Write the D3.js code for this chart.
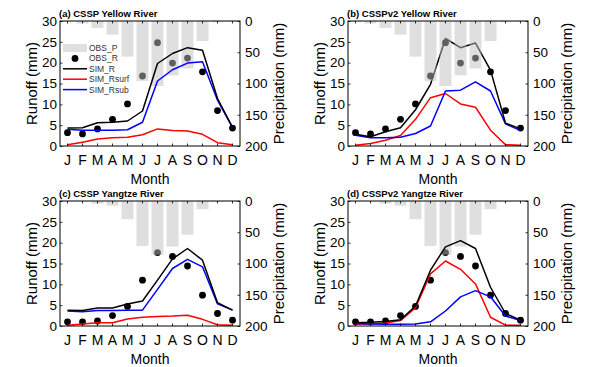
<!DOCTYPE html>
<html>
<head>
<meta charset="utf-8">
<script src="https://cdn.jsdelivr.net/npm/d3@7"></script>
<style>
  html, body { margin: 0; padding: 0; background: #fff; }
  svg { display: block; font-family: "Liberation Sans", Arial, sans-serif; }
</style>
</head>
<body>
<svg id="chart" width="600" height="367"></svg>
<script>
// ---- data ----
const months = ["J","F","M","A","M","J","J","A","S","O","N","D"];
const runoffTicks = [0,5,10,15,20,25,30];
const precipTicks = [0,50,100,150,200];

const yellowObsP = [1,4,11,22,57,96,104,87,76,32,2,1];
const yellowObsR = [3.2,2.9,4.1,6.4,10.1,16.8,24.8,19.9,21.1,17.8,8.5,4.3];
const yangtzeObsP = [0.5,0.5,4.5,7.5,29,72,86,73,54,13,1,0.3];
const yangtzeObsR = [1.0,1.0,1.2,2.5,4.7,11.0,17.6,16.7,14.4,7.4,3.0,1.4];

const csspYellowR     = [4.3,4.4,5.6,5.7,6.0,8.4,19.8,22.2,23.6,23.0,11.4,4.5];
const csspYellowRsurf = [0.3,0.9,1.7,2.0,2.1,2.7,4.1,3.7,3.6,2.8,0.8,0.3];
const csspYellowRsub  = [4.0,3.8,3.8,3.8,3.9,5.7,15.6,18.3,19.9,20.2,11.0,4.4];

const v2YellowR     = [2.8,2.2,3.4,4.4,8.7,14.8,25.8,23.6,24.7,18.2,5.5,4.1];
const v2YellowRsurf = [0.2,0.6,1.4,2.5,6.4,11.6,12.6,10.1,9.3,3.8,0.3,0.2];
const v2YellowRsub  = [2.6,2.0,2.0,2.1,3.0,4.8,13.2,13.4,15.4,13.2,5.3,3.7];

const csspYangtzeR     = [3.8,3.7,4.3,4.3,5.3,6.0,11.0,16.1,18.6,15.8,5.6,3.8];
const csspYangtzeRsurf = [0.2,0.5,0.8,0.8,1.7,2.1,2.3,2.4,2.6,1.6,0.3,0.2];
const csspYangtzeRsub  = [3.6,3.4,3.7,3.7,3.8,3.8,8.8,13.8,16.0,14.2,5.3,3.8];

const v2YangtzeR     = [0.8,0.9,1.1,1.5,4.8,13.4,19.0,20.5,18.6,9.3,3.0,1.4];
const v2YangtzeRsurf = [0.5,0.5,0.7,1.3,4.4,12.5,15.6,13.6,10.1,2.1,0.2,0.2];
const v2YangtzeRsub  = [0.6,0.5,0.4,0.4,0.5,1.0,3.6,7.0,8.5,7.0,2.4,1.3];

const panels = [
  {title:"(a) CSSP Yellow River",   x:60,  y:21,  P:yellowObsP,  O:yellowObsR,  R:csspYellowR,  Rs:csspYellowRsurf,  Rb:csspYellowRsub,  legend:true,  barsOnTop:false},
  {title:"(b) CSSPv2 Yellow River", x:348, y:21,  P:yellowObsP,  O:yellowObsR,  R:v2YellowR,    Rs:v2YellowRsurf,    Rb:v2YellowRsub,    legend:false, barsOnTop:true},
  {title:"(c) CSSP Yangtze River",  x:60,  y:201, P:yangtzeObsP, O:yangtzeObsR, R:csspYangtzeR, Rs:csspYangtzeRsurf, Rb:csspYangtzeRsub, legend:false, barsOnTop:false},
  {title:"(d) CSSPv2 Yangtze River",x:348, y:201, P:yangtzeObsP, O:yangtzeObsR, R:v2YangtzeR,   Rs:v2YangtzeRsurf,   Rb:v2YangtzeRsub,   legend:false, barsOnTop:false}
];

const W = 180, H = 125;
const svg = d3.select("#chart");
const idx = d3.range(12);
const tickFont = "13.5px";

panels.forEach(p => {
  const g = svg.append("g").attr("transform", `translate(${p.x},${p.y})`);
  const xb = d3.scaleBand().domain(idx).range([0, W]).paddingInner(0.2).paddingOuter(0.1);
  const xc = i => xb(i) + xb.bandwidth() / 2;
  const yL = d3.scaleLinear().domain([0, 30]).range([H, 0]);
  const yR = d3.scaleLinear().domain([0, 200]).range([0, H]);

  const barsG = () => {
    g.append("g").selectAll("rect").data(p.P).join("rect")
      .attr("x", (d, i) => xb(i)).attr("y", yR(0))
      .attr("width", xb.bandwidth()).attr("height", d => yR(d) - yR(0))
      .attr("fill", "rgb(192,192,192)").attr("fill-opacity", 0.5);
  };
  const dotsG = () => {
    g.append("g").selectAll("circle").data(p.O).join("circle")
      .attr("cx", (d, i) => xc(i)).attr("cy", d => yL(d)).attr("r", 3.4)
      .attr("fill", "#000");
  };
  const line = d3.line().x((d, i) => xc(i)).y(d => yL(d));
  const linesG = () => {
    [[p.Rs, "#ff0000"], [p.Rb, "#0000ff"], [p.R, "#000000"]].forEach(([data, c]) => {
      g.append("path").datum(data).attr("d", line)
        .attr("fill", "none").attr("stroke", c).attr("stroke-width", 1.5)
        .attr("stroke-linejoin", "round");
    });
  };

  dotsG();
  if (p.barsOnTop) { linesG(); barsG(); } else { barsG(); linesG(); }

  // axes (ticks inward)
  const styleAxis = sel => {
    sel.select(".domain").remove();
    sel.selectAll(".tick line").attr("stroke", "#000").attr("stroke-width", 0.8);
    sel.selectAll("text").attr("fill", "#000").style("font-family", "'Liberation Sans', Arial, sans-serif");
  };
  g.append("g").attr("transform", `translate(0,${H})`)
    .call(d3.axisBottom(xb).tickFormat(i => months[i]).tickSizeInner(-2.5).tickSizeOuter(0).tickPadding(9))
    .call(styleAxis).selectAll("text").style("font-size", "14px");
  g.append("g")
    .call(d3.axisTop(xb).tickFormat("").tickSizeInner(-2.5).tickSizeOuter(0))
    .call(styleAxis);
  g.append("g")
    .call(d3.axisLeft(yL).tickValues(runoffTicks).tickSizeInner(-2.5).tickSizeOuter(0).tickPadding(3))
    .call(styleAxis).selectAll("text").style("font-size", tickFont);
  g.append("g").attr("transform", `translate(${W},0)`)
    .call(d3.axisRight(yR).tickValues(precipTicks).tickSizeInner(-2.5).tickSizeOuter(0).tickPadding(5))
    .call(styleAxis).selectAll("text").style("font-size", tickFont);

  g.append("rect").attr("x", 0).attr("y", 0).attr("width", W).attr("height", H)
    .attr("fill", "none").attr("stroke", "#000").attr("stroke-width", 1);

  // labels
  g.append("text").attr("x", -1).attr("y", -4)
    .style("font-size", "9.5px").style("font-weight", "bold").text(p.title);
  g.append("text").attr("transform", `translate(-28,${H / 2}) rotate(-90)`)
    .attr("text-anchor", "middle").attr("dy", "0.35em").style("font-size", "15px").text("Runoff (mm)");
  g.append("text").attr("transform", `translate(${W + 39},${H / 2}) rotate(-90)`)
    .attr("text-anchor", "middle").attr("dy", "0.35em").style("font-size", "15px").text("Precipitation (mm)");
  g.append("text").attr("x", W / 2).attr("y", H + 38)
    .attr("text-anchor", "middle").style("font-size", "14px").text("Month");

  if (p.legend) {
    const lg = g.append("g").attr("transform", "translate(3,23)");
    const items = [
      {name:"OBS_P", type:"bar"},
      {name:"OBS_R", type:"dot"},
      {name:"SIM_R", type:"line", c:"#000000"},
      {name:"SIM_Rsurf", type:"line", c:"#ff0000"},
      {name:"SIM_Rsub", type:"line", c:"#0000ff"}
    ];
    items.forEach((it, k) => {
      const yy = 4 + k * 10.4;
      if (it.type === "bar") {
        lg.append("rect").attr("x", 0).attr("y", yy - 4).attr("width", 24).attr("height", 8)
          .attr("fill", "rgb(192,192,192)").attr("fill-opacity", 0.5);
      } else if (it.type === "dot") {
        lg.append("circle").attr("cx", 12).attr("cy", yy).attr("r", 3.4).attr("fill", "#000");
      } else {
        lg.append("line").attr("x1", 0).attr("x2", 24).attr("y1", yy).attr("y2", yy)
          .attr("stroke", it.c).attr("stroke-width", 1.5);
      }
      lg.append("text").attr("x", 26).attr("y", yy).attr("dy", "0.35em")
        .style("font-size", "8.5px").attr("fill", "#333").text(it.name);
    });
  }
});
</script>
</body>
</html>
